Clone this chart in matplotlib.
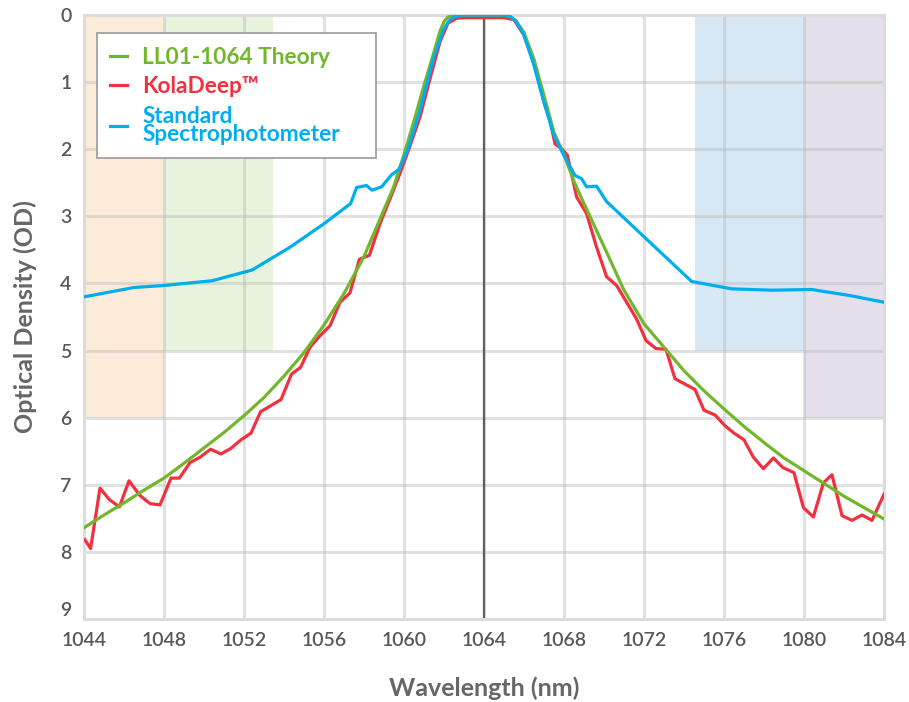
import matplotlib
matplotlib.use("Agg")
import matplotlib.pyplot as plt

plt.rcParams['font.family'] = ['Lato', 'DejaVu Sans']

# ---- data ----
theory_x = [1044, 1045, 1046, 1047, 1048, 1049, 1050, 1051, 1052, 1053, 1054, 1055,
            1056, 1057, 1058, 1059, 1059.5, 1060, 1060.5, 1061, 1061.5, 1061.8, 1062.0,
            1062.2, 1062.5, 1062.8, 1064.8, 1065.1, 1065.35, 1065.6, 1066, 1066.5, 1067,
            1067.5, 1068, 1068.5, 1069,
            1070, 1071, 1072, 1073, 1074, 1075, 1076, 1077, 1078, 1079, 1080, 1081,
            1082, 1083, 1084]
theory_od = [7.64, 7.45, 7.27, 7.08, 6.90, 6.68, 6.45, 6.22, 5.97, 5.70, 5.38, 5.03,
             4.62, 4.15, 3.60, 2.90, 2.55, 2.08, 1.58, 1.05, 0.55, 0.24, 0.10,
             0.03, 0.005, 0.0, 0.0, 0.005, 0.03, 0.09, 0.26, 0.66, 1.20,
             1.75, 2.08, 2.48, 2.81,
             3.45, 4.10, 4.60, 4.95, 5.30, 5.60, 5.87, 6.13, 6.37, 6.60, 6.79, 6.98,
             7.17, 7.34, 7.51]

kola_x = [1044.05, 1044.33, 1044.8, 1045.27, 1045.77, 1046.25, 1046.8, 1047.3, 1047.8,
          1048.35, 1048.77, 1049.3, 1049.8, 1050.33, 1050.85, 1051.33, 1051.85, 1052.35,
          1052.83, 1053.35, 1053.85, 1054.38, 1054.83, 1055.3, 1055.8, 1056.3, 1056.8,
          1057.3, 1057.77, 1058.27, 1058.8, 1059.3, 1059.8, 1060.3, 1060.8, 1061.3,
          1061.8, 1062.2, 1062.63, 1063.0, 1064.0, 1065.0, 1065.5, 1066.0, 1066.5,
          1067.0, 1067.3, 1067.55, 1067.88, 1068.17, 1068.63, 1069.13, 1069.63, 1070.13,
          1070.63, 1071.13, 1071.63, 1072.1, 1072.6, 1073.1, 1073.55, 1074.05, 1074.55,
          1075.0, 1075.55, 1076.05, 1076.5, 1077.0, 1077.47, 1077.97, 1078.47, 1078.93,
          1079.5, 1079.97, 1080.47, 1080.97, 1081.4, 1081.9, 1082.4, 1082.9, 1083.4, 1084.0]
kola_od = [7.82, 7.95, 7.05, 7.22, 7.33, 6.94, 7.16, 7.28, 7.30,
           6.90, 6.90, 6.67, 6.59, 6.47, 6.54, 6.46, 6.33, 6.23,
           5.91, 5.82, 5.73, 5.35, 5.25, 4.95, 4.78, 4.63, 4.28,
           4.14, 3.64, 3.58, 3.11, 2.74, 2.36, 1.95, 1.52, 0.95,
           0.40, 0.12, 0.05, 0.04, 0.04, 0.04, 0.07, 0.30, 0.72,
           1.30, 1.57, 1.92, 1.99, 2.09, 2.71, 2.96, 3.46, 3.90,
           4.03, 4.28, 4.53, 4.85, 4.97, 4.98, 5.42, 5.50, 5.58,
           5.89, 5.96, 6.12, 6.23, 6.33, 6.59, 6.76, 6.60, 6.74,
           6.82, 7.34, 7.48, 6.97, 6.85, 7.46, 7.53, 7.45, 7.53, 7.14]

spec_x = [1044, 1046.5, 1048, 1050.4, 1052.4, 1054.3, 1056, 1057.33, 1057.63, 1058.13,
          1058.4, 1058.88, 1059.38, 1059.75, 1060.2, 1060.8, 1061.45, 1061.97, 1062.3,
          1062.6, 1062.9, 1065.0, 1065.3, 1065.6, 1065.97, 1066.47, 1066.97, 1067.47,
          1067.97, 1068.55, 1068.88, 1069.13, 1069.63, 1070.13, 1074.38, 1076.38,
          1078.38, 1080.38, 1082.3, 1084]
spec_od = [4.20, 4.06, 4.03, 3.96, 3.80, 3.46, 3.11, 2.81, 2.57, 2.54,
           2.61, 2.56, 2.38, 2.30, 2.00, 1.42, 0.67, 0.22, 0.07,
           0.02, 0.0, 0.0, 0.02, 0.09, 0.28, 0.72, 1.27, 1.77,
           2.08, 2.39, 2.44, 2.56, 2.55, 2.78, 3.97, 4.08,
           4.10, 4.09, 4.18, 4.28]

labels = ["LL01-1064 Theory", "KolaDeep\u2122", "Standard\nSpectrophotometer"]
colors = ["#72b72b", "#f2303f", "#00aeef"]

# shaded bands: (x start, x end, OD depth, colour)
band_x0 = [1044, 1048, 1074.55, 1080]
band_x1 = [1048, 1053.45, 1080, 1084]
band_depth = [6, 5, 5, 6]
band_colors = ["#fdebd9", "#e7f3dd", "#d7e8f4", "#e4dfeb"]

x_ticks = list(range(1044, 1085, 4))
y_ticks = list(range(0, 10))
center_wl = 1064

# ---- figure ----
fig = plt.figure(figsize=(9.09, 7.02), dpi=100)
ax = fig.add_axes([0.0924, 0.1182, 0.8801, 0.8604])

for x0, x1, d, c in zip(band_x0, band_x1, band_depth, band_colors):
    ax.fill_between([x0, x1], 0, d, color=c, lw=0, zorder=0)

ax.set_xlim(1044, 1084)
ax.set_ylim(9, 0)
ax.set_xticks(x_ticks)
ax.set_yticks(y_ticks)
ax.grid(True, color="#bdbdbd", alpha=0.45, lw=2.2, zorder=1)
ax.set_axisbelow(True)
for s in ax.spines.values():
    s.set_color("#dcdcdc")
    s.set_linewidth(2.2)
ax.tick_params(length=0, labelsize=14, labelcolor="#585858")
ax.tick_params(axis='y', pad=9)
ax.tick_params(axis='x', pad=9)
for t in ax.get_xticklabels() + ax.get_yticklabels():
    t.set_fontweight("semibold")
ax.get_yticklabels()[-1].set_verticalalignment("bottom")

ax.plot([center_wl, center_wl], [0, 9], color="#5f5f5f", lw=1.6, zorder=2)

ax.plot(kola_x, kola_od, color=colors[1], lw=2.3, zorder=3, label=labels[1])
ax.plot(theory_x, theory_od, color=colors[0], lw=2.3, zorder=4, label=labels[0])
ax.plot(spec_x, spec_od, color=colors[2], lw=2.3, zorder=5, label=labels[2])

handles, labs = ax.get_legend_handles_labels()
order = [1, 0, 2]
leg = ax.legend([handles[i] for i in order], [labs[i] for i in order],
                loc="upper left", bbox_to_anchor=(0.016, 0.758, 0.349, 0.212),
                mode="expand",
                frameon=True, fancybox=False, framealpha=1, edgecolor="#9a9a9a",
                prop={'weight': 'bold', 'size': 16.3},
                handlelength=0.75, handletextpad=0.65, borderpad=0.6,
                labelspacing=0.38, borderaxespad=0)
leg.get_frame().set_linewidth(1.2)
for t, c in zip(leg.get_texts(), [colors[0], colors[1], colors[2]]):
    t.set_color(c)
    t.set_linespacing(0.8)
leg.set_zorder(10)

ax.set_xlabel("Wavelength (nm)", fontsize=18, fontweight="bold", color="#666666", labelpad=20)
ax.set_ylabel("Optical Density (OD)", fontsize=18, fontweight="bold", color="#666666", labelpad=17)

fig.savefig("out.png", dpi=100)
